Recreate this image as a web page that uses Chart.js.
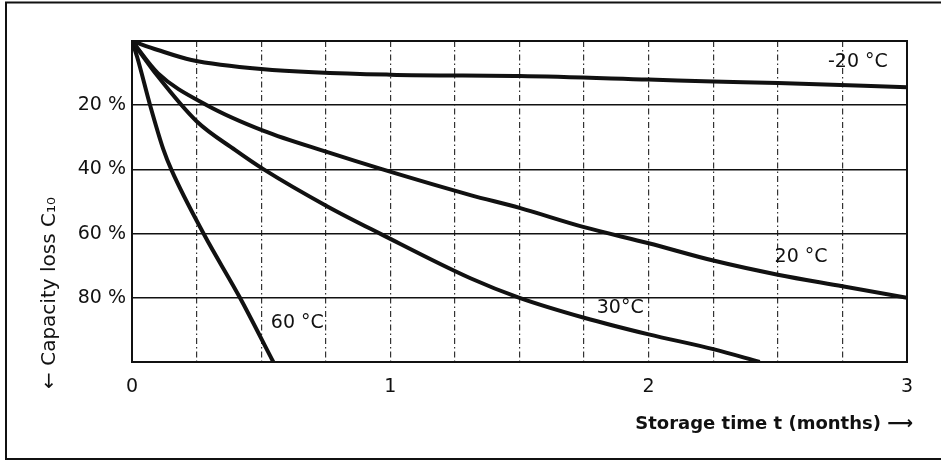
<!DOCTYPE html>
<html lang="en">
<head>
    <meta charset="UTF-8">
    <title>Capacity loss vs storage time</title>
    <script src="https://cdn.jsdelivr.net/npm/chart.js"></script>
    <style>
        html, body { margin: 0; padding: 0; background: #fff; }
        #wrap { width: 941px; height: 461px; }
    </style>
</head>
<body>
    <div id="wrap"><canvas id="lossChart" width="941" height="461"></canvas></div>
    <script>
        // storage time (months) and capacity loss (%) per temperature
        const tMinus20 = [0, 0.1, 0.23, 0.5, 1.0, 1.5, 2.0, 2.25, 2.5, 3.0];
        const lossMinus20 = [0, 2.8, 5.9, 8.7, 10.5, 10.9, 12.0, 12.6, 13.1, 14.4];

        const t20 = [0, 0.1, 0.29, 0.51, 0.76, 0.97, 1.31, 1.5, 1.75, 2.0, 2.25, 2.5, 2.75, 3.0];
        const loss20 = [0, 10, 20, 28, 34.7, 40, 48, 52, 58, 63, 68.4, 72.8, 76.4, 80];

        const t30 = [0, 0.1, 0.25, 0.4, 0.51, 0.76, 0.96, 1.31, 1.5, 1.75, 2.0, 2.25, 2.43];
        const loss30 = [0, 11, 25, 34, 40, 51.7, 60, 73.9, 80, 86.2, 91.4, 96, 100];

        const t60 = [0, 0.02, 0.07, 0.121, 0.154, 0.279, 0.418, 0.547];
        const loss60 = [0, 5, 20, 33.7, 40.4, 60.3, 80, 100];

        const curveNames = ['-20 °C', '20 °C', '30°C', '60 °C'];
        const nameAtT = [2.81, 2.59, 1.89, 0.64];
        const nameAtLoss = [6.5, 67.3, 83.2, 87.8];

        const yTicks = [20, 40, 60, 80];
        const xTitle = 'Storage time t (months) \u27F6';
        const yTitle = '\u2190 Capacity loss C\u2081\u2080';

        const FONT = '"DejaVu Sans", sans-serif';
        const INK = '#111';

        function pts(xs, ys) {
            return xs.map((x, i) => ({ x: x, y: ys[i] }));
        }

        const curve = (data) => ({
            data: data,
            borderColor: INK,
            borderWidth: 4,
            pointRadius: 0,
            fill: false,
            cubicInterpolationMode: 'monotone'
        });

        const decor = {
            id: 'decor',
            afterDraw(chart) {
                const ctx = chart.ctx;
                const a = chart.chartArea;
                const xs = chart.scales.x, ys = chart.scales.y;
                ctx.save();
                // plot frame
                ctx.strokeStyle = INK;
                ctx.lineWidth = 2;
                ctx.strokeRect(a.left, a.top, a.right - a.left, a.bottom - a.top);
                // outer frame (left, top, bottom)
                ctx.beginPath();
                ctx.moveTo(941, 2.5); ctx.lineTo(6, 2.5); ctx.lineTo(6, 459); ctx.lineTo(941, 459);
                ctx.stroke();

                ctx.fillStyle = INK;
                ctx.textBaseline = 'middle';
                ctx.textAlign = 'center';
                ctx.font = '19px ' + FONT;
                curveNames.forEach((name, i) => {
                    ctx.fillText(name, xs.getPixelForValue(nameAtT[i]), ys.getPixelForValue(nameAtLoss[i]));
                });

                ctx.font = 'bold 18px ' + FONT;
                ctx.textAlign = 'right';
                ctx.fillText(xTitle, 913, 424);

                ctx.translate(50, 293);
                ctx.rotate(-Math.PI / 2);
                ctx.textAlign = 'center';
                ctx.font = '20px ' + FONT;
                ctx.fillText(yTitle, 0, 0);
                ctx.restore();
            }
        };

        new Chart(document.getElementById('lossChart'), {
            type: 'line',
            data: {
                datasets: [
                    curve(pts(tMinus20, lossMinus20)),
                    curve(pts(t20, loss20)),
                    curve(pts(t30, loss30)),
                    curve(pts(t60, loss60))
                ]
            },
            options: {
                responsive: false,
                animation: false,
                layout: { padding: { top: 41, right: 34, left: 0, bottom: 0 } },
                plugins: { legend: { display: false }, tooltip: { enabled: false } },
                scales: {
                    x: {
                        type: 'linear',
                        min: 0,
                        max: 3,
                        afterFit: (s) => { s.height = 99; },
                        ticks: {
                            stepSize: 0.25,
                            autoSkip: false,
                            padding: 14,
                            color: INK,
                            font: { family: FONT, size: 19 },
                            callback: (v) => Number.isInteger(v) ? String(v) : ''
                        },
                        grid: { color: '#333', lineWidth: 1.2, drawTicks: false },
                        border: { display: false, dash: [6, 3, 1.5, 3] }
                    },
                    y: {
                        min: 0,
                        max: 100,
                        reverse: true,
                        afterFit: (s) => { s.width = 132; },
                        ticks: {
                            stepSize: 20,
                            padding: 6,
                            color: INK,
                            font: { family: FONT, size: 19 },
                            callback: (v) => yTicks.includes(v) ? v + ' %' : ''
                        },
                        grid: { color: INK, lineWidth: 1.6, drawTicks: false },
                        border: { display: false }
                    }
                }
            },
            plugins: [decor]
        });
    </script>
</body>
</html>
